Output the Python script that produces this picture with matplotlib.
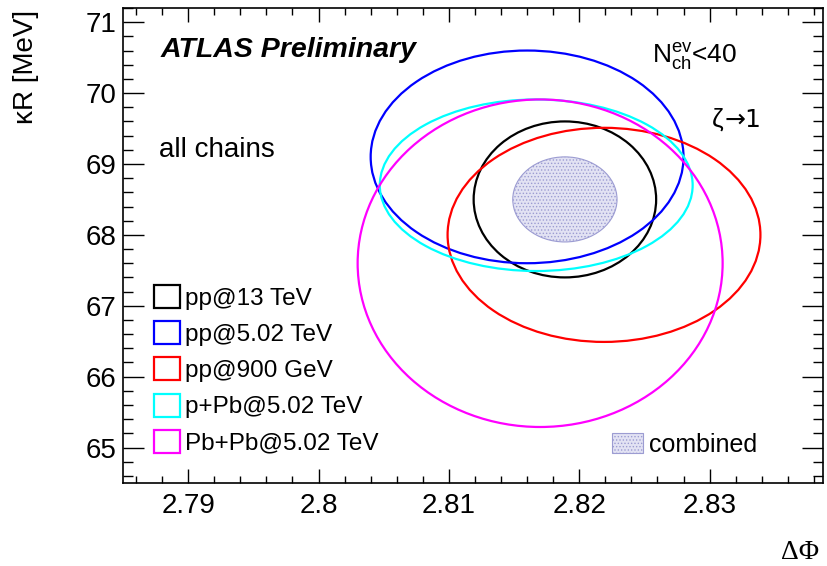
import matplotlib
matplotlib.use('Agg')
import matplotlib.pyplot as plt
from matplotlib.patches import Ellipse, Patch
from matplotlib.ticker import MultipleLocator

plt.rcParams['font.family'] = ['Liberation Sans', 'DejaVu Sans']
plt.rcParams['mathtext.fontset'] = 'custom'
plt.rcParams['mathtext.rm'] = 'Liberation Sans'
plt.rcParams['mathtext.it'] = 'Liberation Sans'
plt.rcParams['hatch.linewidth'] = 0.6

# contours: centre and half-axes in (dPhi, kappaR)
samples = ['pp@13 TeV', 'pp@5.02 TeV', 'pp@900 GeV', 'p+Pb@5.02 TeV', 'Pb+Pb@5.02 TeV']
colors = ['#000000', '#0000ff', '#ff0000', '#00ffff', '#ff00ff']
dphi_center = [2.8189, 2.8160, 2.8219, 2.8167, 2.8170]
kr_center = [68.50, 69.10, 68.00, 68.70, 67.60]
dphi_half = [0.0070, 0.0120, 0.0120, 0.0120, 0.0140]
kr_half = [1.10, 1.50, 1.51, 1.21, 2.31]

# combined result
comb_center = (2.8189, 68.50)
comb_half = (0.0040, 0.60)

fig = plt.figure(figsize=(8.27, 5.66), dpi=100)
ax = fig.add_axes([123 / 827, 83 / 566, 700 / 827, 475 / 566])

ax.add_patch(Ellipse(comb_center, 2 * comb_half[0], 2 * comb_half[1],
                     facecolor='#e2e2f3', edgecolor='#9c9cd2', hatch='.....',
                     linewidth=0.8, zorder=1))

handles = []
for name, c, x0, y0, hx, hy in zip(samples, colors, dphi_center, kr_center, dphi_half, kr_half):
    ax.add_patch(Ellipse((x0, y0), 2 * hx, 2 * hy, facecolor='none',
                         edgecolor=c, linewidth=1.6, zorder=2))
    handles.append(Patch(facecolor='none', edgecolor=c, linewidth=1.6, label=name))

ax.set_xlim(2.785, 2.8387)
ax.set_ylim(64.5, 71.2)

ax.xaxis.set_major_locator(MultipleLocator(0.01))
ax.xaxis.set_minor_locator(MultipleLocator(0.002))
ax.yaxis.set_major_locator(MultipleLocator(1))
ax.yaxis.set_minor_locator(MultipleLocator(0.2))
ax.set_xticks([2.79, 2.80, 2.81, 2.82, 2.83])
ax.set_xticklabels(['2.79', '2.8', '2.81', '2.82', '2.83'])

ax.tick_params(axis='x', which='major', direction='in', length=10, width=1, top=True, labelsize=20, pad=7)
ax.tick_params(axis='x', which='minor', direction='in', length=5, width=1, top=True)
ax.tick_params(axis='y', which='major', direction='in', length=15, width=1, right=True, labelsize=20, pad=5)
ax.tick_params(axis='y', which='minor', direction='in', length=7.5, width=1, right=True)
for s in ax.spines.values():
    s.set_linewidth(1.2)

ax.set_ylabel('κR [MeV]', fontsize=20, loc='top')
ax.yaxis.set_label_coords(-0.12, 0.995)
ax.set_xlabel('ΔΦ', fontsize=20, family=['Liberation Serif', 'DejaVu Serif'], loc='right')
ax.xaxis.set_label_coords(0.994, -0.12)

ax.text(0.053, 0.912, 'ATLAS Preliminary', transform=ax.transAxes, fontsize=20.5,
        fontweight='bold', fontstyle='italic', va='center', ha='left')
ax.text(0.051, 0.701, 'all chains', transform=ax.transAxes, fontsize=20, va='center', ha='left')
ax.text(0.756, 0.897, r'$\mathrm{N}^{\mathrm{ev}}_{\mathrm{ch}}$<40', transform=ax.transAxes,
        fontsize=19, va='center', ha='left')
ax.text(0.841, 0.764, 'ζ', transform=ax.transAxes, fontsize=19, va='center', ha='left')
ax.text(0.859, 0.764, '→1', transform=ax.transAxes, fontsize=18, va='center', ha='left',
        family=['DejaVu Sans'])

leg = ax.legend(handles=handles, loc='upper left', bbox_to_anchor=(0.044, 0.417),
                frameon=False, fontsize=17.5, handlelength=1.08, handleheight=1.08,
                handletextpad=0.2, labelspacing=0.47, borderpad=0, borderaxespad=0)
ax.add_artist(leg)

comb_handle = Patch(facecolor='#e2e2f3', edgecolor='#9c9cd2', hatch='.....', linewidth=0.8,
                    label='combined')
ax.legend(handles=[comb_handle], loc='lower right', bbox_to_anchor=(0.906, 0.055),
          frameon=False, fontsize=18, handlelength=1.25, handleheight=0.85,
          handletextpad=0.25, borderpad=0, borderaxespad=0)

fig.savefig('out.png', dpi=100)
